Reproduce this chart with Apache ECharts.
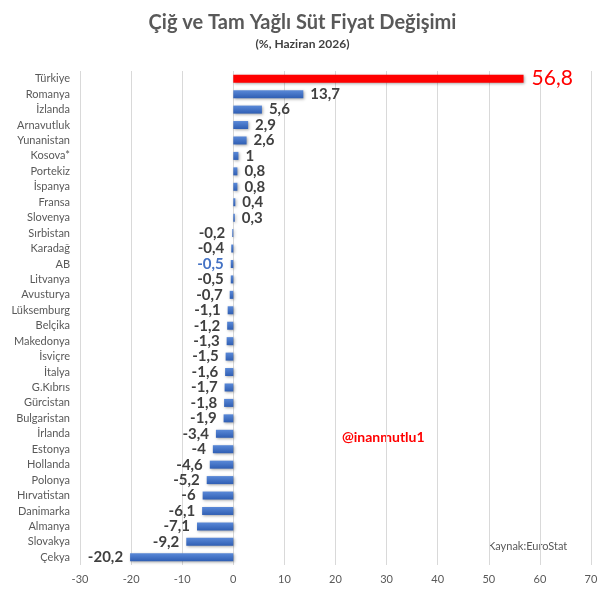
<!DOCTYPE html>
<html>
<head>
<meta charset="utf-8">
<script src="https://cdn.jsdelivr.net/npm/echarts@6/dist/echarts.min.js"></script>
<style>
  html, body { margin: 0; padding: 0; background: #fff; }
  #chart { width: 605px; height: 591px; }
</style>
</head>
<body>
<div id="chart"></div>
<script>
const countries = ['Türkiye', 'Romanya', 'İzlanda', 'Arnavutluk', 'Yunanistan', 'Kosova*', 'Portekiz', 'İspanya',
  'Fransa', 'Slovenya', 'Sırbistan', 'Karadağ', 'AB', 'Litvanya', 'Avusturya', 'Lüksemburg', 'Belçika',
  'Makedonya', 'İsviçre', 'İtalya', 'G.Kıbrıs', 'Gürcistan', 'Bulgaristan', 'İrlanda', 'Estonya', 'Hollanda',
  'Polonya', 'Hırvatistan', 'Danimarka', 'Almanya', 'Slovakya', 'Çekya']
const changes = [56.8, 13.7, 5.6, 2.9, 2.6, 1, 0.8, 0.8, 0.4, 0.3, -0.2, -0.4, -0.5, -0.5, -0.7, -1.1, -1.2,
  -1.3, -1.5, -1.6, -1.7, -1.8, -1.9, -3.4, -4, -4.6, -5.2, -6, -6.1, -7.1, -9.2, -20.2]
const xTicks = [-30, -20, -10, 0, 10, 20, 30, 40, 50, 60, 70]

const FONT = 'Lato'
const blue = new echarts.graphic.LinearGradient(0, 0, 0, 1, [
  { offset: 0, color: '#5a89d8' },
  { offset: 1, color: '#2f5eb3' }
])

const seriesData = changes.map((v, i) => {
  const name = countries[i]
  const item = {
    value: v,
    label: {
      show: true,
      position: v >= 0 ? 'right' : 'left',
      distance: 7,
      formatter: p => String(p.value).replace('.', ','),
      color: '#404040',
      fontWeight: 'bold',
      fontSize: 15,
      fontFamily: FONT
    }
  }
  if (name === 'Türkiye') {
    item.itemStyle = { color: '#ff0000' }
    item.label.color = '#ff0000'
    item.label.fontSize = 21
    item.label.fontWeight = 'normal'
    item.label.distance = 8
  }
  if (name === 'AB') {
    item.label.color = '#4472c4'
  }
  return item
})

const myChart = echarts.init(document.getElementById('chart'))
myChart.setOption({
  animation: false,
  title: {
    text: 'Çiğ ve Tam Yağlı Süt Fiyat Değişimi',
    subtext: '(%, Haziran 2026)',
    left: 'center',
    top: 8,
    itemGap: 5,
    textStyle: { fontFamily: FONT, fontSize: 20, fontWeight: 'bold', color: '#595959' },
    subtextStyle: { fontFamily: FONT, fontSize: 12, fontWeight: 'bold', color: '#404040' }
  },
  grid: { left: 80, right: 14, top: 71, bottom: 26, containLabel: false },
  xAxis: {
    type: 'value',
    min: xTicks[0],
    max: xTicks[xTicks.length - 1],
    interval: 10,
    axisLine: { show: false },
    axisTick: { show: false },
    splitLine: { show: true, lineStyle: { color: '#d9d9d9', width: 1 } },
    axisLabel: { color: '#595959', fontFamily: FONT, fontSize: 11, margin: 9 }
  },
  yAxis: {
    type: 'category',
    data: countries,
    inverse: true,
    axisLine: { show: false },
    axisTick: { show: false },
    axisLabel: { color: '#595959', fontFamily: FONT, fontSize: 11, margin: 10 }
  },
  series: [{
    type: 'bar',
    data: seriesData,
    barWidth: 8,
    itemStyle: {
      color: blue,
      shadowColor: 'rgba(0,0,0,0.35)',
      shadowBlur: 3,
      shadowOffsetX: 1,
      shadowOffsetY: 1
    }
  }],
  graphic: [
    {
      type: 'text', left: 342, top: 430,
      style: { text: '@inanmutlu1', fill: '#ff0000', font: 'bold 14px Lato' }
    },
    {
      type: 'text', left: 488, top: 541,
      style: { text: 'Kaynak:EuroStat', fill: '#595959', font: '11px Lato' }
    }
  ]
})
</script>
</body>
</html>
